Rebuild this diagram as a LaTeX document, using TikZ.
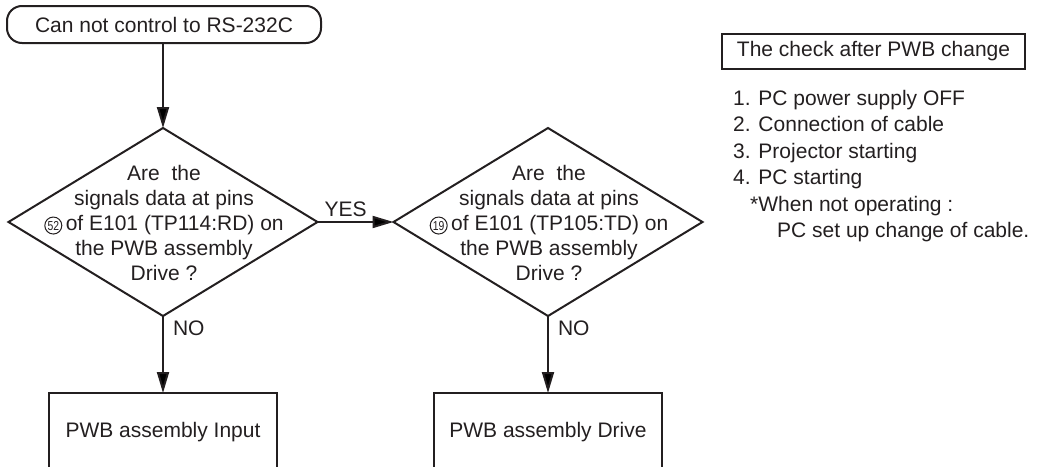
\documentclass[tikz,border=0pt]{standalone}
\usepackage{fontspec}
\setmainfont{Liberation Sans}
\usepackage{graphicx}
\usetikzlibrary{shapes.geometric,arrows.meta}
\definecolor{ink}{HTML}{231F20}
\newcommand{\cnum}[1]{\tikz[baseline=(cn.base)]\node[circle,draw=ink,line width=1pt,inner sep=0pt,minimum size=17pt,text=ink,font=\fontsize{13}{13}\selectfont] (cn) {\scalebox{0.8}[1]{#1}};}
\begin{document}
\begin{tikzpicture}[x=1pt,y=-1pt,
  txt/.style={font=\fontsize{21}{25}\selectfont,text=ink},
  term/.style={draw=ink,line width=2pt,rounded corners=15pt,minimum width=314pt,minimum height=37pt,inner sep=0pt,txt},
  dia/.style={diamond,draw=ink,line width=2pt,minimum width=309pt,minimum height=188pt,inner sep=0pt,outer sep=0pt},
  diatext/.style={txt,align=center,inner sep=0pt},
  procbox/.style={draw=ink,line width=2.4pt,minimum width=228pt,minimum height=78pt,inner sep=0pt,outer sep=0pt,txt},
  arr/.style={draw=ink,line width=2pt,-{Triangle[length=21pt,width=12pt]}},
  lbl/.style={txt,inner sep=0pt},
  checkbox/.style={draw=ink,line width=1.6pt,minimum width=303pt,minimum height=35pt,inner sep=0pt,txt},
  listline/.style={txt,inner sep=0pt,anchor=base west}
]
\useasboundingbox (0,0) rectangle (1044,466);
\clip (0,0) rectangle (1044,466);

\node[term] (start) at (164,24.5) {Can not control to RS-232C};

\node[dia] (d1) at (163,222) {};
\node[diatext] (t1) at (164,222.5) {Are~ the\\signals data at pins\\\cnum{52}\,of E101 (TP114:RD) on\\the PWB assembly\\Drive ?};

\node[dia] (d2) at (548,222) {};
\node[diatext] (t2) at (549,222.5) {Are~ the\\signals data at pins\\\cnum{19}\,of E101 (TP105:TD) on\\the PWB assembly\\Drive ?};

\node[procbox] (b1) at (163,432) {PWB assembly Input};
\node[procbox] (b2) at (548,432) {PWB assembly Drive};

\draw[arr] (d1.north |- start.south) -- (d1.north);
\draw[arr] (d1.east) -- node[lbl,pos=0.37,anchor=south,yshift=4.5pt] (yes) {YES} (d2.west);
\draw[arr] (d1.south) -- node[lbl,pos=0.16,anchor=west,xshift=9pt] (no1) {NO} (b1.north);
\draw[arr] (d2.south) -- node[lbl,pos=0.16,anchor=west,xshift=9pt] (no2) {NO} (b2.north);

\node[checkbox] (chk) at (873.5,51.5) {The check after PWB change};
\node[listline] (l1) at (733,105) {1. PC power supply OFF};
\node[listline] (l2) at (733,131.5) {2. Connection of cable};
\node[listline] (l3) at (733,158) {3. Projector starting};
\node[listline] (l4) at (733,184.5) {4. PC starting};
\node[listline] (l5) at (750,211) {*When not operating :};
\node[listline] (l6) at (777,237.5) {PC set up change of cable.};
\end{tikzpicture}
\end{document}
